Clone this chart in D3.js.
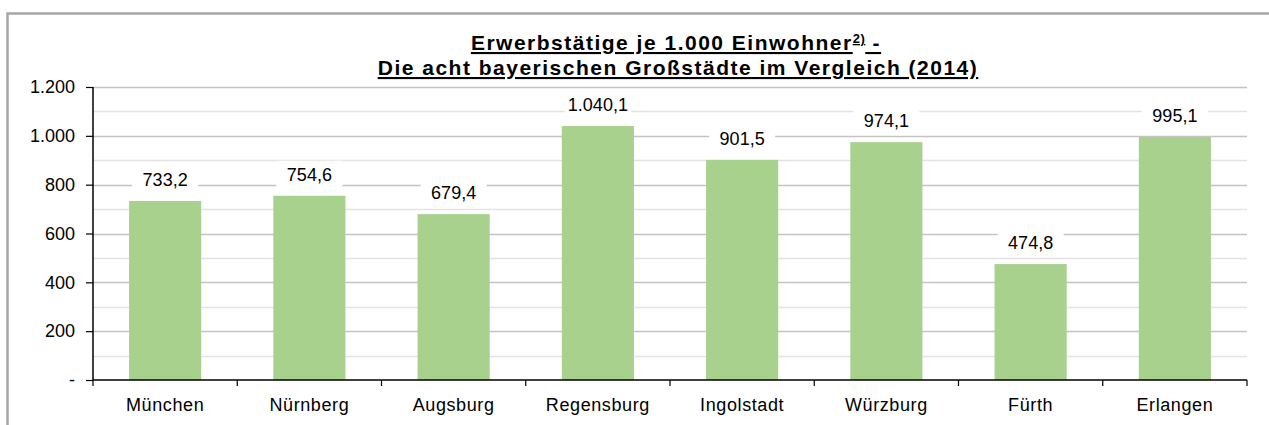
<!DOCTYPE html>
<html><head><meta charset="utf-8">
<script src="https://cdn.jsdelivr.net/npm/d3@7"></script>
<style>
html,body{margin:0;padding:0;background:#fff;}
svg{display:block;}
</style></head>
<body>
<svg id="chart" width="1269" height="425"></svg>
<script>
const categories = ["München","Nürnberg","Augsburg","Regensburg","Ingolstadt","Würzburg","Fürth","Erlangen"];
const values = [733.2, 754.6, 679.4, 1040.1, 901.5, 974.1, 474.8, 995.1];
const yTicks = [0, 200, 400, 600, 800, 1000, 1200];
const yMinor = [100, 300, 500, 700, 900, 1100];
const titleLine1 = "Erwerbstätige je 1.000 Einwohner";
const titleSup = "2)";
const titleDash = " -";
const titleLine2 = "Die acht bayerischen Großstädte im Vergleich (2014)";

const svg = d3.select("#chart");
const font = "'Liberation Sans', Arial, Helvetica, sans-serif";
const L = 93, R = 1247, T = 87, B = 380;

// frame
svg.append("rect").attr("x", 7.5).attr("y", 13.5).attr("width", 1300).attr("height", 450)
  .attr("fill", "none").attr("stroke", "#a6a6a6").attr("stroke-width", 2.5);

const x = d3.scaleBand().domain(categories).range([L, R]).paddingInner(0.5).paddingOuter(0.25);
const y = d3.scaleLinear().domain([0, 1200]).range([B, T]);
const fmt = d3.formatLocale({decimal: ",", thousands: ".", grouping: [3], currency: ["", "€"]});
const fTick = fmt.format(",.0f");
const fVal = fmt.format(",.1f");

// gridlines
svg.append("g").selectAll("line").data(yMinor).join("line")
  .attr("x1", L).attr("x2", R).attr("y1", d => Math.round(y(d)) + 0.5).attr("y2", d => Math.round(y(d)) + 0.5)
  .attr("stroke", "#e3e3e3").attr("stroke-width", 1.5);
svg.append("g").selectAll("line").data(yTicks.filter(d => d > 0)).join("line")
  .attr("x1", L).attr("x2", R).attr("y1", d => Math.round(y(d)) + 0.5).attr("y2", d => Math.round(y(d)) + 0.5)
  .attr("stroke", "#c4c4c4").attr("stroke-width", 1.5);

// bars
svg.append("g").selectAll("rect").data(values).join("rect")
  .attr("x", (d, i) => x(categories[i])).attr("width", x.bandwidth())
  .attr("y", d => y(d)).attr("height", d => B - y(d))
  .attr("fill", "#a9d18e");

// y axis
const yAxis = d3.axisLeft(y).tickValues(yTicks).tickSize(7).tickPadding(11)
  .tickFormat(d => d === 0 ? "-" : fTick(d));
const gy = svg.append("g").attr("transform", `translate(${L},0)`).call(yAxis);
gy.select(".domain").attr("stroke", "#000").attr("stroke-width", 1.5).attr("d", `M0,${T}V${B}`);
gy.selectAll(".tick line").attr("stroke", "#000").attr("stroke-width", 1.2);
gy.selectAll(".tick text").attr("font-family", font).attr("font-size", 18).attr("fill", "#000");

// x axis
const gx = svg.append("g").attr("transform", `translate(0,${B})`);
gx.append("line").attr("x1", L).attr("x2", R).attr("y1", 0).attr("y2", 0).attr("stroke", "#000").attr("stroke-width", 1.5);
const step = x.step();
const bounds = d3.range(categories.length + 1).map(i => L + i * step);
gx.selectAll("line.tk").data(bounds).join("line").attr("class", "tk")
  .attr("x1", d => d).attr("x2", d => d).attr("y1", 0).attr("y2", 6)
  .attr("stroke", "#000").attr("stroke-width", 1.2);
gx.selectAll("text").data(categories).join("text")
  .attr("x", d => x(d) + x.bandwidth() / 2).attr("y", 31)
  .attr("text-anchor", "middle").attr("font-family", font).attr("font-size", 18)
  .attr("letter-spacing", 0.6).attr("fill", "#000").text(d => d);

// value labels
const lbl = svg.append("g").selectAll("g").data(values).join("g")
  .attr("transform", (d, i) => `translate(${x(categories[i]) + x.bandwidth() / 2},${y(d) - 15})`);
lbl.append("rect").attr("x", -33).attr("y", -20).attr("width", 66).attr("height", 27).attr("fill", "#fff");
lbl.append("text").attr("text-anchor", "middle").attr("font-family", font).attr("font-size", 18)
  .attr("fill", "#000").text(d => fVal(d));

// title
const tcx = 676;
const t1 = svg.append("text").attr("x", tcx).attr("y", 50).attr("text-anchor", "middle")
  .attr("font-family", font).attr("font-weight", "bold").attr("font-size", 21)
  .attr("letter-spacing", 1.5).attr("text-decoration", "underline").attr("fill", "#000");
t1.append("tspan").text(titleLine1);
t1.append("tspan").attr("font-size", 13).attr("letter-spacing", 0.5).attr("dy", -7).text(titleSup);
t1.append("tspan").attr("dy", 7).text(titleDash);
svg.append("text").attr("x", tcx + 2).attr("y", 75).attr("text-anchor", "middle")
  .attr("font-family", font).attr("font-weight", "bold").attr("font-size", 21)
  .attr("letter-spacing", 1.5).attr("text-decoration", "underline").attr("fill", "#000").text(titleLine2);
</script>
</body></html>
